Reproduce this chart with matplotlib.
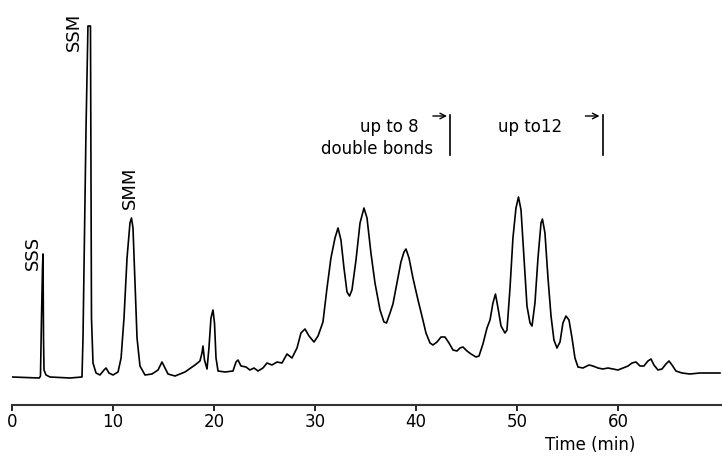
import matplotlib
matplotlib.use("Agg")
import matplotlib.pyplot as plt

# chromatogram trace: retention time (min) and detector signal (arb.)
time_min = [
    0.0, 2.7, 2.82, 2.92, 3.02, 3.07, 3.12, 3.17, 3.37, 3.76, 5.74, 6.93,
    7.03, 7.33, 7.52, 7.77, 7.87, 8.02, 8.32, 8.71, 9.11, 9.31, 9.6, 10.0,
    10.5, 10.8, 11.09, 11.39, 11.68, 11.83, 11.98, 12.18, 12.38, 12.67, 13.17,
    13.86, 14.46, 14.85, 15.05, 15.45, 16.14, 17.13, 18.12, 18.61, 18.81, 18.91,
    19.06, 19.31, 19.5, 19.7, 19.9, 20.05, 20.2, 20.4, 21.09, 21.88, 22.18,
    22.38, 22.67, 23.17, 23.56, 23.96, 24.36, 24.85, 25.25, 25.74, 26.24, 26.73,
    27.23, 27.72, 28.22, 28.61, 29.01, 29.41, 29.9, 30.3, 30.79, 31.19, 31.58,
    31.98, 32.28, 32.57, 32.87, 33.17, 33.42, 33.66, 34.06, 34.46, 34.85, 35.15,
    35.54, 35.94, 36.44, 36.83, 37.08, 37.43, 37.72, 38.12, 38.51, 38.81, 39.01,
    39.31, 39.7, 40.2, 40.59, 40.99, 41.39, 41.68, 42.08, 42.48, 42.87, 43.27,
    43.66, 44.06, 44.36, 44.65, 45.05, 45.45, 45.94, 46.24, 46.63, 47.03, 47.33,
    47.62, 47.87, 48.12, 48.42, 48.81, 49.01, 49.31, 49.6, 49.9, 50.15, 50.4,
    50.69, 50.99, 51.29, 51.49, 51.78, 52.08, 52.38, 52.52, 52.77, 53.07, 53.37,
    53.66, 53.96, 54.26, 54.55, 54.85, 55.15, 55.45, 55.74, 56.04, 56.53, 57.13,
    57.52, 58.02, 58.51, 59.01, 59.5, 60.0, 60.5, 61.0, 61.39, 61.78, 62.18,
    62.57, 62.97, 63.27, 63.56, 63.96, 64.36, 64.75, 65.05, 65.35, 65.74, 66.34,
    67.13, 68.12, 69.11, 70.1,
]
signal = [
    1, 0, 2, 60, 110, 124, 40, 8, 3, 1, 0, 1,
    40, 250, 352, 352, 60, 15, 5, 3, 8, 10, 5, 3,
    6, 20, 60, 120, 155, 160, 150, 95, 40, 12, 3,
    4, 8, 16, 12, 4, 2, 6, 13, 17, 25, 32,
    18, 9, 30, 60, 68, 55, 20, 7, 6, 7, 16,
    18, 12, 11, 8, 10, 7, 10, 15, 13, 16, 15,
    24, 20, 30, 45, 49, 42, 36, 42, 56, 90, 120,
    140, 150, 138, 110, 86, 82, 88, 118, 155, 170, 160,
    125, 95, 68, 56, 55, 65, 74, 95, 116, 126, 129,
    120, 100, 78, 62, 45, 35, 33, 36, 41, 41, 35,
    28, 27, 30, 31, 27, 24, 21, 22, 34, 50, 58,
    75, 84, 70, 52, 45, 48, 90, 140, 170, 181, 168,
    120, 72, 55, 52, 75, 120, 155, 159, 145, 100, 62,
    38, 30, 36, 55, 62, 58, 40, 20, 11, 10, 13,
    12, 10, 9, 10, 9, 8, 10, 12, 15, 16, 12,
    12, 17, 19, 13, 8, 9, 14, 17, 13, 7, 5,
    4, 5, 5, 5,
]

# peak labels: (text, time, signal)
peak_labels = [("SSS", 2.08, 125), ("SSM", 6.1, 346), ("SMM", 11.7, 190)]

# region markers: boundary time, and the texts beside them (text, time, signal)
boundaries = [43.4, 58.5]
region_texts = [("up to 8", 37.4, 251), ("double bonds", 36.1, 229), ("up to12", 51.3, 251)]

xticks = [0, 10, 20, 30, 40, 50, 60]

fig = plt.figure(figsize=(7.22, 4.59), dpi=100)
ax = fig.add_axes([12 / 722, 54 / 459, 710 / 722, 405 / 459])

ax.plot(time_min, signal, color="black", lw=1.2)

for txt, t, s in peak_labels:
    ax.text(t, s, txt, rotation=90, ha="center", va="center", fontsize=13)

# boundary markers: small arrow pointing to a vertical bar
for b in boundaries:
    ax.plot([b, b], [223, 263], color="black", lw=1.2)
    ax.annotate("", xy=(b - 0.05, 262), xytext=(b - 2.0, 262),
                arrowprops=dict(arrowstyle="->", color="black", lw=1.0))

for txt, t, s in region_texts:
    ax.text(t, s, txt, ha="center", va="center", fontsize=12)

ax.set_xlim(0, 70.3)
ax.set_ylim(-27, 378)
ax.set_xticks(xticks)
ax.set_yticks([])
ax.tick_params(axis="x", direction="out", length=4, width=1.2, labelsize=12, pad=2)
for side in ["left", "right", "top"]:
    ax.spines[side].set_visible(False)
ax.spines["bottom"].set_linewidth(1.5)
ax.spines["bottom"].set_color("#333333")

fig.text(590 / 722, 1 - 445 / 459, "Time (min)", ha="center", va="center", fontsize=12)

fig.savefig("out.png", dpi=100)
